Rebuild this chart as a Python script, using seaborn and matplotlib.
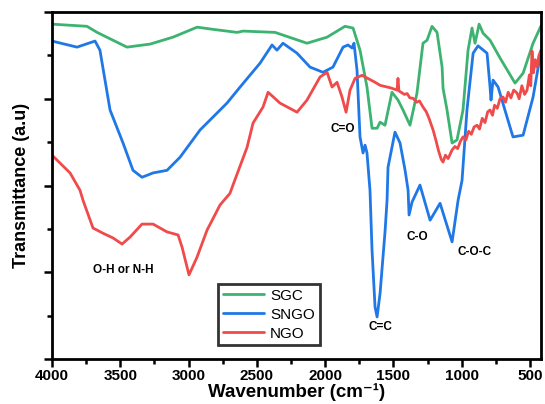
import matplotlib
matplotlib.use("Agg")
import matplotlib.pyplot as plt
import seaborn as sns
import pandas as pd
from matplotlib.ticker import MultipleLocator, NullFormatter

# ---------------- data ----------------
sgc_wn = [4000, 3744, 3670, 3451, 3282, 3114, 2938, 2821, 2645, 2601, 2367, 2133, 1986,
          1855, 1796, 1745, 1694, 1657, 1620, 1598, 1562, 1511, 1467, 1430, 1379, 1328,
          1284, 1254, 1218, 1181, 1144, 1137, 1108, 1071, 1035, 991, 954, 925, 903, 873,
          844, 793, 720, 610, 551, 478, 420]
sgc_t = [7.72, 7.67, 7.53, 7.19, 7.26, 7.42, 7.65, 7.60, 7.53, 7.56, 7.53, 7.28, 7.42,
         7.67, 7.63, 7.12, 6.27, 5.32, 5.32, 5.46, 5.39, 6.15, 5.97, 5.74, 5.39, 6.13,
         7.28, 7.35, 7.67, 7.53, 6.73, 6.24, 5.74, 4.98, 5.05, 5.74, 7.12, 7.63, 7.28, 7.72,
         7.51, 7.35, 6.94, 6.36, 6.59, 7.28, 7.68]

sngo_wn = [4000, 3817, 3685, 3649, 3575, 3480, 3407, 3341, 3260, 3158, 3063, 2916, 2865,
           2719, 2623, 2477, 2389, 2353, 2309, 2206, 2111, 2016, 1943, 1869, 1833, 1803,
           1789, 1767, 1745, 1723, 1708, 1694, 1672, 1657, 1635, 1620, 1598, 1562, 1547,
           1540, 1489, 1452, 1415, 1393, 1386, 1364, 1306, 1232, 1159, 1071, 1027, 998,
           962, 917, 881, 815, 793, 786, 771, 734, 669, 625, 551, 478, 420]
sngo_t = [7.33, 7.19, 7.33, 7.12, 5.74, 4.98, 4.35, 4.19, 4.29, 4.35, 4.65, 5.28, 5.44,
          5.90, 6.27, 6.82, 7.24, 7.12, 7.28, 7.05, 6.73, 6.61, 6.73, 7.19, 7.24, 7.17,
          7.28, 6.66, 5.12, 4.75, 4.93, 4.75, 3.89, 2.51, 1.20, 0.97, 1.52, 2.93, 3.66,
          4.42, 5.23, 4.98, 4.35, 3.89, 3.32, 3.62, 4.01, 3.20, 3.59, 2.70, 3.66, 4.12,
          5.74, 7.05, 7.22, 7.05, 6.27, 5.97, 6.43, 6.27, 5.58, 5.12, 5.16, 6.04, 7.10]

ngo_wn = [4000, 3868, 3795, 3773, 3700, 3627, 3553, 3487, 3429, 3341, 3260, 3158, 3077,
          3048, 2997, 2938, 2865, 2770, 2697, 2675, 2572, 2528, 2455, 2418, 2331, 2206,
          2133, 2038, 1986, 1950, 1913, 1877, 1847, 1818, 1781, 1730, 1635, 1598, 1520,
          1474, 1467, 1460, 1420, 1400, 1380, 1357, 1330, 1310, 1284, 1260, 1240, 1210,
          1190, 1170, 1150, 1137, 1120, 1100, 1071, 1050, 1030, 1010, 991, 970, 950, 930,
          910, 888, 870, 850, 830, 810, 793, 775, 760, 740, 720, 698, 680, 660, 640, 620,
          595, 580, 560, 540, 522, 505, 495, 486, 475, 462, 449, 435, 420]
ngo_t = [4.70, 4.29, 3.89, 3.66, 3.02, 2.90, 2.79, 2.65, 2.81, 3.11, 3.11, 2.93, 2.86,
         2.58, 1.94, 2.35, 2.97, 3.55, 3.82, 4.01, 4.88, 5.44, 5.81, 6.15, 5.90, 5.69,
         5.97, 6.50, 6.61, 6.27, 6.38, 6.04, 5.69, 6.20, 6.47, 6.54, 6.38, 6.31, 6.25,
         6.20, 6.47, 6.18, 6.10, 6.12, 6.02, 6.01, 5.92, 5.95, 5.81, 5.70, 5.55, 5.28,
         5.05, 4.80, 4.60, 4.54, 4.70, 4.62, 4.82, 4.90, 4.85, 5.02, 5.12, 5.05, 5.25, 5.18,
         5.35, 5.39, 5.30, 5.55, 5.45, 5.70, 5.74, 5.62, 5.85, 5.78, 6.00, 6.04, 5.92, 6.15,
         6.02, 6.20, 6.13, 6.00, 6.30, 6.10, 6.20, 6.55, 6.30, 7.10, 6.60, 6.90, 6.73, 7.00, 7.12]

series_names = ["SGC", "SNGO", "NGO"]
series_colors = ["#3cb371", "#1f78e6", "#f04a4a"]
xtick_vals = [4000, 3500, 3000, 2500, 2000, 1500, 1000, 500]
annotations = [("O-H or N-H", 3480, 2.05), ("C=O", 1869, 5.30), ("C=C", 1598, 0.74),
               ("C-O", 1327, 2.81), ("C-O-C", 903, 2.47)]

# ---------------- figure ----------------
sns.set_theme(style="white")
plt.rcParams['font.family'] = ['Liberation Sans', 'DejaVu Sans']
plt.rcParams['text.color'] = 'black'
plt.rcParams['axes.labelcolor'] = 'black'
plt.rcParams['xtick.color'] = 'black'
plt.rcParams['ytick.color'] = 'black'

fig = plt.figure(figsize=(5.45, 4.04), dpi=100)
ax = fig.add_axes([52/545, 1 - 359/404, (541-52)/545, (359-12)/404])

for name, wn, t, c in zip(series_names, [sgc_wn, sngo_wn, ngo_wn],
                          [sgc_t, sngo_t, ngo_t], series_colors):
    df = pd.DataFrame({"wn": wn, "t": t})
    sns.lineplot(data=df, x="wn", y="t", ax=ax, color=c, lw=2.0, label=name,
                 sort=False, estimator=None)

ax.set_xlim(4000, 420)
ax.set_ylim(0, 8)
ax.set_xticks(xtick_vals)
ax.xaxis.set_minor_locator(MultipleLocator(250))
ax.yaxis.set_major_locator(MultipleLocator(2))
ax.yaxis.set_minor_locator(MultipleLocator(1))
ax.yaxis.set_major_formatter(NullFormatter())
ax.tick_params(axis='both', which='major', direction='out', length=6, width=1.8,
               colors='black', labelcolor='black', labelsize=11, bottom=True, left=True, pad=1.5)
ax.tick_params(axis='both', which='minor', direction='out', length=3.5, width=1.8,
               colors='black', bottom=True, left=True)
for lab in ax.get_xticklabels():
    lab.set_fontweight('bold')
for s in ax.spines.values():
    s.set_color('black')
    s.set_linewidth(2)

ax.set_xlabel("Wavenumber (cm\u207b\u00b9)", fontsize=13.5, fontweight='bold', labelpad=0,
              color='black')
ax.set_ylabel("Transmittance (a.u)", fontsize=13, fontweight='bold', labelpad=8, color='black')

for txt, xx, yy in annotations:
    ax.text(xx, yy, txt, fontsize=8.5, fontweight='bold', ha='center', va='center',
            color='black')

leg = ax.legend(loc='lower left', bbox_to_anchor=(0.34, 0.04), borderaxespad=0,
                fontsize=11, frameon=True, fancybox=False, handlelength=2.7,
                handletextpad=0.4, borderpad=0.3, labelspacing=0.32, labelcolor='black')
leg.get_frame().set_edgecolor('black')
leg.get_frame().set_linewidth(2)

fig.savefig("out.png", dpi=100)
